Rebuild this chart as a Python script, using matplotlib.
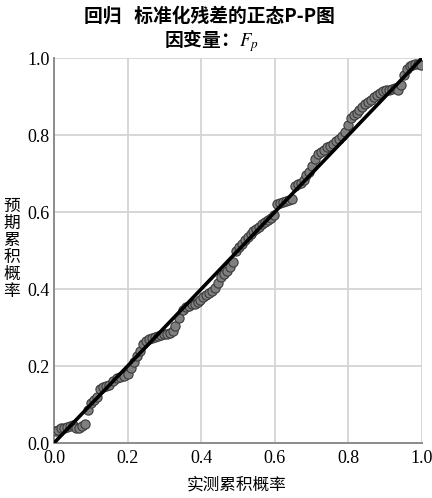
import matplotlib
matplotlib.use("Agg")
import matplotlib.pyplot as plt

# observed cumulative probability (x) vs expected cumulative probability (y)
obs = [0.005, 0.012, 0.020, 0.028, 0.036, 0.044, 0.052, 0.060, 0.068, 0.076,
       0.084, 0.092, 0.100, 0.108, 0.116, 0.124, 0.132, 0.140, 0.150, 0.160,
       0.170, 0.180, 0.190, 0.200, 0.210, 0.218, 0.226, 0.234, 0.242, 0.250,
       0.258, 0.266, 0.274, 0.282, 0.290, 0.298, 0.306, 0.314, 0.322, 0.330,
       0.340, 0.350, 0.358, 0.366, 0.374, 0.382, 0.390, 0.398, 0.406, 0.414,
       0.422, 0.430, 0.438, 0.446, 0.454, 0.462, 0.470, 0.478, 0.486, 0.494,
       0.502, 0.510, 0.518, 0.526, 0.534, 0.542, 0.550, 0.558, 0.566, 0.574,
       0.582, 0.590, 0.598, 0.606, 0.614, 0.622, 0.630, 0.638, 0.646, 0.654,
       0.662, 0.670, 0.678, 0.686, 0.694, 0.702, 0.710, 0.718, 0.726, 0.734,
       0.742, 0.750, 0.758, 0.766, 0.774, 0.782, 0.790, 0.798, 0.806, 0.814,
       0.822, 0.830, 0.838, 0.846, 0.854, 0.862, 0.870, 0.878, 0.886, 0.894,
       0.902, 0.910, 0.918, 0.926, 0.934, 0.942, 0.950, 0.958, 0.966, 0.974,
       0.982, 0.990, 0.998]
expd = [0.030, 0.034, 0.038, 0.040, 0.042, 0.045, 0.047, 0.040, 0.038, 0.044,
        0.050, 0.085, 0.105, 0.112, 0.120, 0.140, 0.145, 0.148, 0.152, 0.160,
        0.168, 0.172, 0.175, 0.180, 0.196, 0.210, 0.225, 0.240, 0.258, 0.266,
        0.270, 0.272, 0.275, 0.278, 0.280, 0.282, 0.284, 0.287, 0.292, 0.305,
        0.325, 0.345, 0.352, 0.356, 0.360, 0.362, 0.366, 0.372, 0.378, 0.384,
        0.390, 0.396, 0.402, 0.416, 0.430, 0.440, 0.448, 0.458, 0.470, 0.500,
        0.508, 0.516, 0.528, 0.535, 0.542, 0.550, 0.556, 0.562, 0.568, 0.575,
        0.580, 0.585, 0.592, 0.620, 0.624, 0.626, 0.628, 0.630, 0.634, 0.668,
        0.672, 0.676, 0.684, 0.696, 0.704, 0.720, 0.738, 0.750, 0.756, 0.762,
        0.768, 0.772, 0.776, 0.784, 0.790, 0.798, 0.808, 0.826, 0.845, 0.852,
        0.858, 0.866, 0.872, 0.880, 0.886, 0.892, 0.900, 0.905, 0.910, 0.914,
        0.916, 0.918, 0.920, 0.922, 0.918, 0.930, 0.955, 0.972, 0.978, 0.982,
        0.984, 0.985, 0.982]

ticks = [0.0, 0.2, 0.4, 0.6, 0.8, 1.0]
tick_labels = ["0.0", "0.2", "0.4", "0.6", "0.8", "1.0"]

cjk = ["Noto Sans CJK SC", "DejaVu Sans"]
num_font = "Liberation Serif"
plt.rcParams["mathtext.fontset"] = "stix"

fig = plt.figure(figsize=(4.32, 4.98), dpi=100)
ax = fig.add_axes([0.125, 0.1104, 0.852, 0.7731])

ax.scatter(obs, expd, s=44, facecolor="#7f7f7f", edgecolor="#3a3a3a",
           linewidth=0.8, zorder=3)
ax.plot([0, 1], [0, 1], color="black", lw=2.6, zorder=4)

ax.set_xlim(0, 1)
ax.set_ylim(0, 1)
ax.set_xticks(ticks)
ax.set_yticks(ticks)
ax.set_xticklabels(tick_labels, fontfamily=num_font, fontsize=13)
ax.set_yticklabels(tick_labels, fontfamily=num_font, fontsize=13)
ax.tick_params(axis="x", length=0, pad=5)
ax.tick_params(axis="y", length=0, pad=3)
ax.grid(True, color="#d4d4d4", lw=1.3, zorder=0)
ax.set_axisbelow(True)
for s in ["top", "right"]:
    ax.spines[s].set_visible(False)
for s in ["left", "bottom"]:
    ax.spines[s].set_color("#8c8c8c")
    ax.spines[s].set_linewidth(1.4)

fig.text(0.485, 0.968, "回归   标准化残差的正态P-P图", ha="center", va="center",
         family=cjk, fontsize=13.5, fontweight="bold")
fig.text(0.49, 0.918, "因变量：$F_p$", ha="center", va="center",
         family=cjk, fontsize=13.5, fontweight="bold")
fig.text(0.027, 0.5, "预\n期\n累\n积\n概\n率", ha="center", va="center",
         family=cjk, fontsize=12, linespacing=1.0)
fig.text(0.548, 0.026, "实测累积概率", ha="center", va="center",
         family=cjk, fontsize=12)

fig.savefig("out.png", dpi=100)
